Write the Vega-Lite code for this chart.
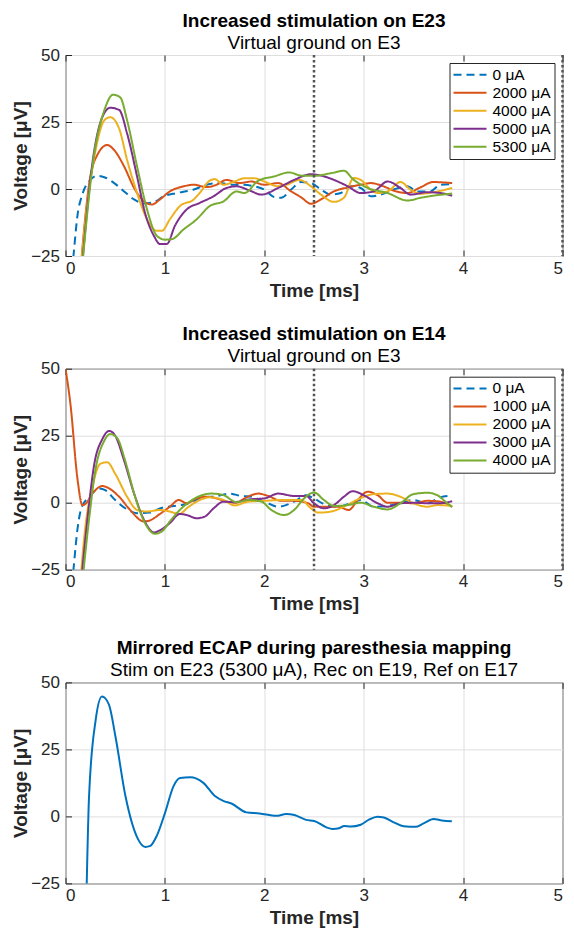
{
  "$schema": "https://vega.github.io/schema/vega-lite/v6.json",
  "padding": {"left": 10.5, "top": 11, "right": 0, "bottom": 0},
  "spacing": 23.7,
  "resolve": {"scale": {"color": "independent", "strokeDash": "independent"}},
  "datasets": {
    "p1": [
      {"s":"0 μA","t":0.04,"v":-40},{"s":"0 μA","t":0.08,"v":-25},{"s":"0 μA","t":0.12,"v":-10},{"s":"0 μA","t":0.17,"v":-2},{"s":"0 μA","t":0.25,"v":3.4},{"s":"0 μA","t":0.32,"v":4.9},{"s":"0 μA","t":0.39,"v":4.4},{"s":"0 μA","t":0.49,"v":2.2},{"s":"0 μA","t":0.59,"v":-0.9},{"s":"0 μA","t":0.69,"v":-3.9},{"s":"0 μA","t":0.79,"v":-5.4},{"s":"0 μA","t":0.89,"v":-4.9},{"s":"0 μA","t":0.99,"v":-2.7},{"s":"0 μA","t":1.12,"v":-1.5},{"s":"0 μA","t":1.29,"v":-0.2},{"s":"0 μA","t":1.42,"v":1.6},{"s":"0 μA","t":1.55,"v":2.2},{"s":"0 μA","t":1.7,"v":1.6},{"s":"0 μA","t":1.77,"v":1.6},{"s":"0 μA","t":1.9,"v":1},{"s":"0 μA","t":2.0,"v":-0.2},{"s":"0 μA","t":2.1,"v":-3},{"s":"0 μA","t":2.17,"v":-3.3},{"s":"0 μA","t":2.27,"v":-0.2},{"s":"0 μA","t":2.37,"v":2.6},{"s":"0 μA","t":2.47,"v":2.2},{"s":"0 μA","t":2.57,"v":-0.2},{"s":"0 μA","t":2.67,"v":-2.1},{"s":"0 μA","t":2.77,"v":-1.5},{"s":"0 μA","t":2.87,"v":1},{"s":"0 μA","t":2.97,"v":0.4},{"s":"0 μA","t":3.07,"v":-2.7},{"s":"0 μA","t":3.17,"v":-2.1},{"s":"0 μA","t":3.3,"v":-0.2},{"s":"0 μA","t":3.44,"v":1},{"s":"0 μA","t":3.54,"v":-0.9},{"s":"0 μA","t":3.67,"v":-0.9},{"s":"0 μA","t":3.77,"v":1.6},{"s":"0 μA","t":3.89,"v":1.8},
      {"s":"2000 μA","t":0.13,"v":-40},{"s":"2000 μA","t":0.25,"v":4.7},{"s":"2000 μA","t":0.32,"v":12.7},{"s":"2000 μA","t":0.42,"v":16.4},{"s":"2000 μA","t":0.49,"v":14.5},{"s":"2000 μA","t":0.59,"v":8.4},{"s":"2000 μA","t":0.69,"v":0.4},{"s":"2000 μA","t":0.79,"v":-4.6},{"s":"2000 μA","t":0.87,"v":-5.8},{"s":"2000 μA","t":0.95,"v":-3.9},{"s":"2000 μA","t":1.05,"v":-0.9},{"s":"2000 μA","t":1.19,"v":1},{"s":"2000 μA","t":1.29,"v":1.6},{"s":"2000 μA","t":1.42,"v":0.7},{"s":"2000 μA","t":1.52,"v":1.6},{"s":"2000 μA","t":1.62,"v":3.4},{"s":"2000 μA","t":1.75,"v":2.2},{"s":"2000 μA","t":1.87,"v":2.8},{"s":"2000 μA","t":2.0,"v":1.6},{"s":"2000 μA","t":2.14,"v":2.2},{"s":"2000 μA","t":2.27,"v":-0.9},{"s":"2000 μA","t":2.37,"v":-3.1},{"s":"2000 μA","t":2.47,"v":-5.5},{"s":"2000 μA","t":2.57,"v":-3.9},{"s":"2000 μA","t":2.7,"v":-0.9},{"s":"2000 μA","t":2.84,"v":0.6},{"s":"2000 μA","t":2.97,"v":1.6},{"s":"2000 μA","t":3.07,"v":2.2},{"s":"2000 μA","t":3.2,"v":1},{"s":"2000 μA","t":3.3,"v":-0.6},{"s":"2000 μA","t":3.44,"v":-1.5},{"s":"2000 μA","t":3.57,"v":0.6},{"s":"2000 μA","t":3.7,"v":2.6},{"s":"2000 μA","t":3.89,"v":2.2},
      {"s":"4000 μA","t":0.13,"v":-40},{"s":"4000 μA","t":0.22,"v":-5},{"s":"4000 μA","t":0.29,"v":12},{"s":"4000 μA","t":0.39,"v":25.6},{"s":"4000 μA","t":0.45,"v":26.8},{"s":"4000 μA","t":0.54,"v":22.5},{"s":"4000 μA","t":0.62,"v":10.8},{"s":"4000 μA","t":0.72,"v":-1.5},{"s":"4000 μA","t":0.82,"v":-11.3},{"s":"4000 μA","t":0.92,"v":-15.6},{"s":"4000 μA","t":0.97,"v":-15.6},{"s":"4000 μA","t":1.05,"v":-11.3},{"s":"4000 μA","t":1.15,"v":-6.4},{"s":"4000 μA","t":1.29,"v":-3.9},{"s":"4000 μA","t":1.35,"v":-1.5},{"s":"4000 μA","t":1.44,"v":2.8},{"s":"4000 μA","t":1.5,"v":3.7},{"s":"4000 μA","t":1.59,"v":1.6},{"s":"4000 μA","t":1.7,"v":2.8},{"s":"4000 μA","t":1.8,"v":4},{"s":"4000 μA","t":1.9,"v":4},{"s":"4000 μA","t":2.0,"v":2.8},{"s":"4000 μA","t":2.14,"v":1},{"s":"4000 μA","t":2.24,"v":1.8},{"s":"4000 μA","t":2.35,"v":3.4},{"s":"4000 μA","t":2.47,"v":1},{"s":"4000 μA","t":2.57,"v":-2.1},{"s":"4000 μA","t":2.7,"v":-4.8},{"s":"4000 μA","t":2.8,"v":-3.3},{"s":"4000 μA","t":2.9,"v":4.1},{"s":"4000 μA","t":2.97,"v":3.4},{"s":"4000 μA","t":3.07,"v":-0.2},{"s":"4000 μA","t":3.14,"v":-1.5},{"s":"4000 μA","t":3.24,"v":-0.9},{"s":"4000 μA","t":3.37,"v":2.6},{"s":"4000 μA","t":3.47,"v":-0.2},{"s":"4000 μA","t":3.57,"v":-1.8},{"s":"4000 μA","t":3.7,"v":-1.2},{"s":"4000 μA","t":3.89,"v":0.4},
      {"s":"5000 μA","t":0.14,"v":-40},{"s":"5000 μA","t":0.29,"v":14.5},{"s":"5000 μA","t":0.37,"v":26.8},{"s":"5000 μA","t":0.45,"v":30.3},{"s":"5000 μA","t":0.54,"v":29.5},{"s":"5000 μA","t":0.62,"v":20.7},{"s":"5000 μA","t":0.72,"v":4.7},{"s":"5000 μA","t":0.8,"v":-8.9},{"s":"5000 μA","t":0.89,"v":-17.5},{"s":"5000 μA","t":0.95,"v":-20.5},{"s":"5000 μA","t":1.02,"v":-20.5},{"s":"5000 μA","t":1.1,"v":-13.8},{"s":"5000 μA","t":1.22,"v":-7.6},{"s":"5000 μA","t":1.35,"v":-5.2},{"s":"5000 μA","t":1.49,"v":-2.7},{"s":"5000 μA","t":1.62,"v":0.4},{"s":"5000 μA","t":1.72,"v":1},{"s":"5000 μA","t":1.85,"v":-0.5},{"s":"5000 μA","t":1.97,"v":-2.1},{"s":"5000 μA","t":2.14,"v":0.4},{"s":"5000 μA","t":2.3,"v":3.4},{"s":"5000 μA","t":2.47,"v":5.5},{"s":"5000 μA","t":2.57,"v":5},{"s":"5000 μA","t":2.7,"v":3.4},{"s":"5000 μA","t":2.84,"v":1},{"s":"5000 μA","t":2.97,"v":-1.5},{"s":"5000 μA","t":3.1,"v":-0.9},{"s":"5000 μA","t":3.24,"v":2.8},{"s":"5000 μA","t":3.37,"v":0.4},{"s":"5000 μA","t":3.47,"v":-2.1},{"s":"5000 μA","t":3.64,"v":-1.2},{"s":"5000 μA","t":3.77,"v":-1.5},{"s":"5000 μA","t":3.89,"v":-2.5},
      {"s":"5300 μA","t":0.16,"v":-32},{"s":"5300 μA","t":0.29,"v":13.3},{"s":"5300 μA","t":0.39,"v":29.3},{"s":"5300 μA","t":0.48,"v":35.2},{"s":"5300 μA","t":0.55,"v":34.2},{"s":"5300 μA","t":0.62,"v":25.6},{"s":"5300 μA","t":0.72,"v":8.4},{"s":"5300 μA","t":0.82,"v":-7.6},{"s":"5300 μA","t":0.92,"v":-17.5},{"s":"5300 μA","t":1.0,"v":-18.9},{"s":"5300 μA","t":1.07,"v":-18.7},{"s":"5300 μA","t":1.19,"v":-15},{"s":"5300 μA","t":1.32,"v":-11.3},{"s":"5300 μA","t":1.45,"v":-6.4},{"s":"5300 μA","t":1.59,"v":-4.6},{"s":"5300 μA","t":1.72,"v":-0.9},{"s":"5300 μA","t":1.8,"v":-1.5},{"s":"5300 μA","t":1.94,"v":3.1},{"s":"5300 μA","t":2.1,"v":4.7},{"s":"5300 μA","t":2.25,"v":6.2},{"s":"5300 μA","t":2.37,"v":5},{"s":"5300 μA","t":2.5,"v":4.9},{"s":"5300 μA","t":2.67,"v":5.9},{"s":"5300 μA","t":2.8,"v":6.8},{"s":"5300 μA","t":2.9,"v":3.4},{"s":"5300 μA","t":3.04,"v":0.4},{"s":"5300 μA","t":3.24,"v":-1.5},{"s":"5300 μA","t":3.44,"v":-4.3},{"s":"5300 μA","t":3.57,"v":-3.3},{"s":"5300 μA","t":3.7,"v":-2.5},{"s":"5300 μA","t":3.89,"v":-1.7}
    ],
    "p2": [
      {"s":"0 μA","t":0.04,"v":-40},{"s":"0 μA","t":0.08,"v":-25},{"s":"0 μA","t":0.12,"v":-10},{"s":"0 μA","t":0.16,"v":-2},{"s":"0 μA","t":0.24,"v":2.2},{"s":"0 μA","t":0.34,"v":5.3},{"s":"0 μA","t":0.4,"v":4.7},{"s":"0 μA","t":0.5,"v":1},{"s":"0 μA","t":0.62,"v":-2.5},{"s":"0 μA","t":0.72,"v":-3.9},{"s":"0 μA","t":0.85,"v":-3.7},{"s":"0 μA","t":0.95,"v":-2.1},{"s":"0 μA","t":1.09,"v":-1.2},{"s":"0 μA","t":1.22,"v":-0.5},{"s":"0 μA","t":1.35,"v":1.6},{"s":"0 μA","t":1.52,"v":2.5},{"s":"0 μA","t":1.65,"v":3.4},{"s":"0 μA","t":1.77,"v":2.5},{"s":"0 μA","t":1.87,"v":2.2},{"s":"0 μA","t":2.0,"v":0.4},{"s":"0 μA","t":2.14,"v":-1.5},{"s":"0 μA","t":2.3,"v":0.4},{"s":"0 μA","t":2.42,"v":2.8},{"s":"0 μA","t":2.5,"v":1.6},{"s":"0 μA","t":2.6,"v":-0.5},{"s":"0 μA","t":2.74,"v":-1.5},{"s":"0 μA","t":2.87,"v":-0.2},{"s":"0 μA","t":2.97,"v":1},{"s":"0 μA","t":3.1,"v":-1.5},{"s":"0 μA","t":3.24,"v":-1.2},{"s":"0 μA","t":3.37,"v":0},{"s":"0 μA","t":3.5,"v":1},{"s":"0 μA","t":3.64,"v":-0.2},{"s":"0 μA","t":3.77,"v":2},{"s":"0 μA","t":3.85,"v":2.5},
      {"s":"1000 μA","t":0.0,"v":50},{"s":"1000 μA","t":0.05,"v":36.7},{"s":"1000 μA","t":0.12,"v":9},{"s":"1000 μA","t":0.17,"v":-0.9},{"s":"1000 μA","t":0.2,"v":-0.5},{"s":"1000 μA","t":0.27,"v":3.4},{"s":"1000 μA","t":0.37,"v":6.2},{"s":"1000 μA","t":0.44,"v":5.3},{"s":"1000 μA","t":0.54,"v":2.2},{"s":"1000 μA","t":0.65,"v":-2.7},{"s":"1000 μA","t":0.79,"v":-7},{"s":"1000 μA","t":0.85,"v":-6.6},{"s":"1000 μA","t":0.95,"v":-4.2},{"s":"1000 μA","t":1.05,"v":-1.5},{"s":"1000 μA","t":1.14,"v":1},{"s":"1000 μA","t":1.22,"v":-0.2},{"s":"1000 μA","t":1.32,"v":1.6},{"s":"1000 μA","t":1.42,"v":2.2},{"s":"1000 μA","t":1.52,"v":1.6},{"s":"1000 μA","t":1.62,"v":0.4},{"s":"1000 μA","t":1.72,"v":0},{"s":"1000 μA","t":1.8,"v":1.6},{"s":"1000 μA","t":1.94,"v":3.4},{"s":"1000 μA","t":2.04,"v":2.5},{"s":"1000 μA","t":2.17,"v":0.7},{"s":"1000 μA","t":2.3,"v":0.7},{"s":"1000 μA","t":2.44,"v":-0.2},{"s":"1000 μA","t":2.5,"v":-1.5},{"s":"1000 μA","t":2.6,"v":-1.5},{"s":"1000 μA","t":2.74,"v":-1.5},{"s":"1000 μA","t":2.85,"v":-2.7},{"s":"1000 μA","t":2.94,"v":1},{"s":"1000 μA","t":3.04,"v":4.1},{"s":"1000 μA","t":3.14,"v":2.8},{"s":"1000 μA","t":3.24,"v":0},{"s":"1000 μA","t":3.37,"v":0},{"s":"1000 μA","t":3.5,"v":-0.2},{"s":"1000 μA","t":3.64,"v":0.7},{"s":"1000 μA","t":3.77,"v":0.4},{"s":"1000 μA","t":3.89,"v":-1.5},
      {"s":"2000 μA","t":0.12,"v":-45},{"s":"2000 μA","t":0.2,"v":-8.9},{"s":"2000 μA","t":0.27,"v":5.9},{"s":"2000 μA","t":0.35,"v":14.5},{"s":"2000 μA","t":0.42,"v":15.1},{"s":"2000 μA","t":0.5,"v":10.8},{"s":"2000 μA","t":0.62,"v":2.2},{"s":"2000 μA","t":0.72,"v":-2.7},{"s":"2000 μA","t":0.82,"v":-3.3},{"s":"2000 μA","t":0.95,"v":-2.7},{"s":"2000 μA","t":1.05,"v":-3.3},{"s":"2000 μA","t":1.14,"v":-4.2},{"s":"2000 μA","t":1.24,"v":-1.5},{"s":"2000 μA","t":1.35,"v":1},{"s":"2000 μA","t":1.45,"v":2},{"s":"2000 μA","t":1.59,"v":1},{"s":"2000 μA","t":1.7,"v":-1},{"s":"2000 μA","t":1.84,"v":0.4},{"s":"2000 μA","t":2.0,"v":0.7},{"s":"2000 μA","t":2.17,"v":1},{"s":"2000 μA","t":2.37,"v":1},{"s":"2000 μA","t":2.47,"v":-2.1},{"s":"2000 μA","t":2.54,"v":-3.7},{"s":"2000 μA","t":2.67,"v":-3.3},{"s":"2000 μA","t":2.8,"v":-1.5},{"s":"2000 μA","t":2.94,"v":1.2},{"s":"2000 μA","t":3.1,"v":3.2},{"s":"2000 μA","t":3.24,"v":3.4},{"s":"2000 μA","t":3.37,"v":2.2},{"s":"2000 μA","t":3.5,"v":-0.2},{"s":"2000 μA","t":3.64,"v":-1.5},{"s":"2000 μA","t":3.74,"v":-0.9},{"s":"2000 μA","t":3.89,"v":-1.2},
      {"s":"3000 μA","t":0.12,"v":-45},{"s":"3000 μA","t":0.22,"v":-6.4},{"s":"3000 μA","t":0.29,"v":14.5},{"s":"3000 μA","t":0.37,"v":23.7},{"s":"3000 μA","t":0.44,"v":26.8},{"s":"3000 μA","t":0.5,"v":25},{"s":"3000 μA","t":0.59,"v":15.7},{"s":"3000 μA","t":0.69,"v":3.4},{"s":"3000 μA","t":0.79,"v":-6.4},{"s":"3000 μA","t":0.89,"v":-11.1},{"s":"3000 μA","t":0.95,"v":-10.3},{"s":"3000 μA","t":1.05,"v":-7.6},{"s":"3000 μA","t":1.15,"v":-4.2},{"s":"3000 μA","t":1.22,"v":-4.6},{"s":"3000 μA","t":1.32,"v":-5.8},{"s":"3000 μA","t":1.4,"v":-5.2},{"s":"3000 μA","t":1.49,"v":-2.1},{"s":"3000 μA","t":1.59,"v":0.4},{"s":"3000 μA","t":1.7,"v":0.2},{"s":"3000 μA","t":1.84,"v":1.2},{"s":"3000 μA","t":2.0,"v":1.6},{"s":"3000 μA","t":2.14,"v":3.4},{"s":"3000 μA","t":2.3,"v":2.5},{"s":"3000 μA","t":2.42,"v":2.5},{"s":"3000 μA","t":2.5,"v":-0.2},{"s":"3000 μA","t":2.6,"v":-2.1},{"s":"3000 μA","t":2.7,"v":-0.9},{"s":"3000 μA","t":2.8,"v":2.2},{"s":"3000 μA","t":2.89,"v":4.3},{"s":"3000 μA","t":3.0,"v":2.8},{"s":"3000 μA","t":3.14,"v":-0.2},{"s":"3000 μA","t":3.24,"v":-1.5},{"s":"3000 μA","t":3.37,"v":-0.2},{"s":"3000 μA","t":3.5,"v":0},{"s":"3000 μA","t":3.64,"v":-0.2},{"s":"3000 μA","t":3.77,"v":-0.2},{"s":"3000 μA","t":3.89,"v":0.6},
      {"s":"4000 μA","t":0.13,"v":-45},{"s":"4000 μA","t":0.24,"v":-5.2},{"s":"4000 μA","t":0.3,"v":12},{"s":"4000 μA","t":0.39,"v":23.1},{"s":"4000 μA","t":0.45,"v":25.6},{"s":"4000 μA","t":0.52,"v":24.1},{"s":"4000 μA","t":0.6,"v":15.7},{"s":"4000 μA","t":0.7,"v":2.2},{"s":"4000 μA","t":0.8,"v":-7.6},{"s":"4000 μA","t":0.9,"v":-11.6},{"s":"4000 μA","t":0.97,"v":-10.7},{"s":"4000 μA","t":1.05,"v":-7},{"s":"4000 μA","t":1.15,"v":-2.7},{"s":"4000 μA","t":1.25,"v":0.4},{"s":"4000 μA","t":1.35,"v":2.5},{"s":"4000 μA","t":1.47,"v":3.4},{"s":"4000 μA","t":1.59,"v":2.8},{"s":"4000 μA","t":1.72,"v":0.2},{"s":"4000 μA","t":1.84,"v":1},{"s":"4000 μA","t":1.97,"v":0.4},{"s":"4000 μA","t":2.07,"v":-2.7},{"s":"4000 μA","t":2.2,"v":-4.6},{"s":"4000 μA","t":2.3,"v":-2.7},{"s":"4000 μA","t":2.4,"v":1.6},{"s":"4000 μA","t":2.5,"v":3.8},{"s":"4000 μA","t":2.6,"v":1},{"s":"4000 μA","t":2.7,"v":-1.2},{"s":"4000 μA","t":2.84,"v":-0.9},{"s":"4000 μA","t":2.97,"v":0},{"s":"4000 μA","t":3.1,"v":-1.5},{"s":"4000 μA","t":3.24,"v":-2.5},{"s":"4000 μA","t":3.37,"v":-0.2},{"s":"4000 μA","t":3.5,"v":3.2},{"s":"4000 μA","t":3.64,"v":3.7},{"s":"4000 μA","t":3.74,"v":2.8},{"s":"4000 μA","t":3.84,"v":-0.2},{"s":"4000 μA","t":3.89,"v":-1.7}
    ],
    "p3": [
      {"t":0.205,"v":-40},{"t":0.237,"v":7.6},{"t":0.303,"v":35.8},{"t":0.367,"v":44.7},{"t":0.437,"v":41.7},{"t":0.503,"v":29.7},{"t":0.603,"v":7.6},{"t":0.727,"v":-8.3},{"t":0.803,"v":-11.4},{"t":0.853,"v":-11.0},{"t":0.92,"v":-7.1},{"t":1.003,"v":1.5},{"t":1.087,"v":11.3},{"t":1.153,"v":14.3},{"t":1.253,"v":14.6},{"t":1.387,"v":12.5},{"t":1.503,"v":7.6},{"t":1.587,"v":5.8},{"t":1.67,"v":4.8},{"t":1.82,"v":1.5},{"t":1.953,"v":1.1},{"t":2.12,"v":0.2},{"t":2.22,"v":0.9},{"t":2.303,"v":0.5},{"t":2.42,"v":-1.3},{"t":2.503,"v":-1.7},{"t":2.62,"v":-4.0},{"t":2.687,"v":-4.7},{"t":2.753,"v":-4.4},{"t":2.803,"v":-3.6},{"t":2.87,"v":-3.8},{"t":2.97,"v":-3.1},{"t":3.053,"v":-1.2},{"t":3.137,"v":-0.1},{"t":3.203,"v":-0.4},{"t":3.303,"v":-2.2},{"t":3.403,"v":-3.7},{"t":3.52,"v":-3.9},{"t":3.603,"v":-2.6},{"t":3.703,"v":-1.0},{"t":3.787,"v":-1.5},{"t":3.887,"v":-1.8}
    ],
    "marks": [{"x": 2.5}, {"x": 5}]
  },
  "vconcat": [
    {
      "width": 497, "height": 201,
      "title": {"text": "Increased stimulation on E23", "subtitle": "Virtual ground on E3"},
      "resolve": {"axis": {"x": "independent"}},
      "layer": [
        {
          "data": {"name": "p1"},
          "mark": {"type": "line", "strokeWidth": 2, "clip": true, "interpolate": "monotone"},
          "encoding": {
            "x": {"field": "t", "type": "quantitative", "scale": {"domain": [0, 5], "nice": false}, "axis": {"title": "Time [ms]", "values": [0, 1, 2, 3, 4, 5]}},
            "y": {"field": "v", "type": "quantitative", "scale": {"domain": [-25, 50], "nice": false}, "axis": {"title": "Voltage [μV]", "values": [-25, 0, 25, 50]}},
            "color": {"field": "s", "type": "nominal", "scale": {"domain": ["0 μA", "2000 μA", "4000 μA", "5000 μA", "5300 μA"], "range": ["#0072BD", "#D95319", "#EDB120", "#7E2F8E", "#77AC30"]}, "legend": {"title": null}},
            "strokeDash": {"field": "s", "type": "nominal", "scale": {"domain": ["0 μA", "2000 μA", "4000 μA", "5000 μA", "5300 μA"], "range": [[8, 5], [1, 0], [1, 0], [1, 0], [1, 0]]}, "legend": {"title": null}}
          }
        },
        {
          "data": {"name": "marks"},
          "mark": {"type": "rule", "strokeDash": [2.5, 2.5], "strokeWidth": 2.5, "color": "#555555"},
          "encoding": {"x": {"field": "x", "type": "quantitative", "axis": {"orient": "top", "labels": false, "title": null, "grid": false, "values": [0, 1, 2, 3, 4, 5], "minExtent": 0, "maxExtent": 0}}}
        }
      ]
    },
    {
      "width": 497, "height": 201,
      "title": {"text": "Increased stimulation on E14", "subtitle": "Virtual ground on E3"},
      "resolve": {"axis": {"x": "independent"}},
      "layer": [
        {
          "data": {"name": "p2"},
          "mark": {"type": "line", "strokeWidth": 2, "clip": true, "interpolate": "monotone"},
          "encoding": {
            "x": {"field": "t", "type": "quantitative", "scale": {"domain": [0, 5], "nice": false}, "axis": {"title": "Time [ms]", "values": [0, 1, 2, 3, 4, 5]}},
            "y": {"field": "v", "type": "quantitative", "scale": {"domain": [-25, 50], "nice": false}, "axis": {"title": "Voltage [μV]", "values": [-25, 0, 25, 50]}},
            "color": {"field": "s", "type": "nominal", "scale": {"domain": ["0 μA", "1000 μA", "2000 μA", "3000 μA", "4000 μA"], "range": ["#0072BD", "#D95319", "#EDB120", "#7E2F8E", "#77AC30"]}, "legend": {"title": null}},
            "strokeDash": {"field": "s", "type": "nominal", "scale": {"domain": ["0 μA", "1000 μA", "2000 μA", "3000 μA", "4000 μA"], "range": [[8, 5], [1, 0], [1, 0], [1, 0], [1, 0]]}, "legend": {"title": null}}
          }
        },
        {
          "data": {"name": "marks"},
          "mark": {"type": "rule", "strokeDash": [2.5, 2.5], "strokeWidth": 2.5, "color": "#555555"},
          "encoding": {"x": {"field": "x", "type": "quantitative", "axis": {"orient": "top", "labels": false, "title": null, "grid": false, "values": [0, 1, 2, 3, 4, 5], "minExtent": 0, "maxExtent": 0}}}
        }
      ]
    },
    {
      "width": 497, "height": 201,
      "title": {"text": "Mirrored ECAP during paresthesia mapping", "subtitle": "Stim on E23 (5300 μA), Rec on E19, Ref on E17"},
      "resolve": {"axis": {"x": "independent"}},
      "layer": [
        {
          "data": {"name": "p3"},
          "mark": {"type": "line", "strokeWidth": 2, "clip": true, "color": "#0072BD", "interpolate": "monotone"},
          "encoding": {
            "x": {"field": "t", "type": "quantitative", "scale": {"domain": [0, 5], "nice": false}, "axis": {"title": "Time [ms]", "values": [0, 1, 2, 3, 4, 5]}},
            "y": {"field": "v", "type": "quantitative", "scale": {"domain": [-25, 50], "nice": false}, "axis": {"title": "Voltage [μV]", "values": [-25, 0, 25, 50]}}
          }
        },
        {
          "data": {"name": "marks"},
          "mark": {"type": "rule", "opacity": 0},
          "encoding": {"x": {"field": "x", "type": "quantitative", "axis": {"orient": "top", "labels": false, "title": null, "grid": false, "values": [0, 1, 2, 3, 4, 5], "minExtent": 0, "maxExtent": 0}}}
        }
      ]
    }
  ],
  "config": {
    "font": "Liberation Sans",
    "background": "white",
    "view": {"stroke": "#262626", "strokeWidth": 1},
    "axis": {
      "labelFont": "Liberation Sans", "labelFontSize": 17, "labelColor": "#262626",
      "titleFont": "Liberation Sans", "titleFontSize": 19, "titleFontWeight": "bold", "titleColor": "#262626",
      "gridColor": "#dedede", "gridWidth": 1, "domain": false,
      "tickColor": "#262626", "tickSize": -6, "tickWidth": 1
    },
    "axisX": {"labelPadding": 10, "titlePadding": 5},
    "axisY": {"labelPadding": 12, "titlePadding": 0.5},
    "title": {
      "font": "Liberation Sans", "fontSize": 19, "fontWeight": "bold", "color": "#000000",
      "subtitleFont": "Liberation Sans", "subtitleFontSize": 19, "subtitleFontWeight": "normal", "subtitleColor": "#000000",
      "subtitlePadding": 3, "offset": -6.5, "anchor": "middle", "frame": "group"
    },
    "legend": {
      "orient": "top-right", "offset": 8, "strokeColor": "#262626", "fillColor": "white", "padding": 3,
      "labelFont": "Liberation Sans", "labelFontSize": 15.5, "labelColor": "#000000",
      "symbolType": "stroke", "symbolSize": 1089, "symbolStrokeWidth": 2,
      "clipHeight": 17.4, "rowPadding": 0, "labelOffset": 5
    }
  }
}
